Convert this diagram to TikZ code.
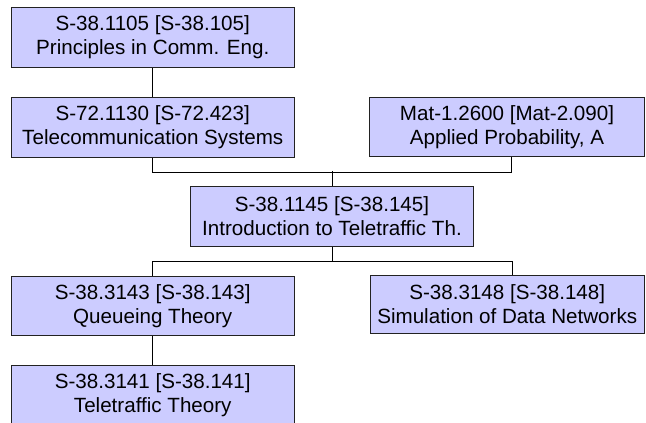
\documentclass[tikz,border=0pt]{standalone}
\usepackage{fontspec}
\setmainfont{Liberation Sans}
\definecolor{lavender}{HTML}{CCCCFF}
\definecolor{boxline}{HTML}{222222}
\begin{document}
\begin{tikzpicture}[x=1pt,y=-1pt,
  course/.style={draw=boxline, fill=lavender, line width=1pt, minimum height=60pt,
    inner sep=0pt, align=center, font=\fontsize{20.6}{24}\selectfont, anchor=north west},
  link/.style={draw=black, line width=1pt}]
\useasboundingbox (0,0) rectangle (646,423);
\node[course, minimum width=283.5pt] (a) at (10.5,7) {S-38.1105 [S-38.105]\\Principles in Comm. Eng.};
\node[course, minimum width=283.5pt] (b) at (10.5,97) {S-72.1130 [S-72.423]\\Telecommunication Systems};
\node[course, minimum width=275pt, minimum height=59pt] (m) at (369,97) {Mat-1.2600 [Mat-2.090]\\Applied Probability, A};
\node[course, minimum width=283pt] (c) at (190,186) {S-38.1145 [S-38.145]\\Introduction to Teletraffic Th.};
\node[course, minimum width=283.5pt, minimum height=59pt] (q) at (10.5,276) {S-38.3143 [S-38.143]\\Queueing Theory};
\node[course, minimum width=274.5pt, minimum height=58pt] (s) at (369.5,275) {S-38.3148 [S-38.148]\\Simulation of Data Networks};
\node[course, minimum width=283.5pt] (t) at (10.5,365) {S-38.3141 [S-38.141]\\Teletraffic Theory};
\draw[link] (a.south) -- (b.north);
\draw[link] (b.south) -- ++(0,14) -| ([xshift=4pt]m.south);
\draw[link] (c.north) -- ++(0,-15);
\draw[link] (c.south) -- ++(0,15);
\draw[link] (q.north) -- ++(0,-15) -| ([xshift=5pt]s.north);
\draw[link] (q.south) -- (t.north);
\end{tikzpicture}
\end{document}
